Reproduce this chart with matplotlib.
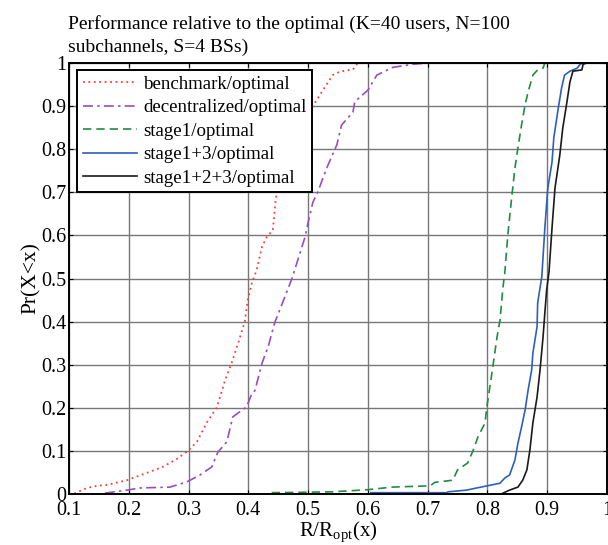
import matplotlib
matplotlib.use("Agg")
import matplotlib.pyplot as plt

plt.rcParams['font.family'] = ['Liberation Serif', 'DejaVu Serif']
plt.rcParams['mathtext.fontset'] = 'custom'
plt.rcParams['mathtext.rm'] = 'Liberation Serif'

# CDF points: (ratio, probability)
bench_x = [0.100, 0.107, 0.130, 0.147, 0.163, 0.197, 0.230, 0.257, 0.280, 0.299, 0.314,
           0.331, 0.347, 0.356, 0.361, 0.372, 0.383, 0.394, 0.399, 0.406, 0.414, 0.423,
           0.431, 0.441, 0.446, 0.455, 0.465, 0.478, 0.490, 0.500, 0.508, 0.523, 0.541,
           0.553, 0.575, 0.583]
bench_p = [0.000, 0.000, 0.014, 0.019, 0.021, 0.032, 0.049, 0.063, 0.081, 0.100, 0.121,
           0.167, 0.200, 0.240, 0.264, 0.304, 0.350, 0.400, 0.450, 0.490, 0.520, 0.574,
           0.597, 0.612, 0.687, 0.730, 0.770, 0.810, 0.850, 0.884, 0.900, 0.933, 0.972,
           0.980, 0.985, 1.000]

decen_x = [0.160, 0.197, 0.219, 0.269, 0.297, 0.319, 0.339, 0.349, 0.364, 0.374, 0.397,
           0.405, 0.411, 0.423, 0.433, 0.444, 0.461, 0.473, 0.495, 0.500, 0.508, 0.516,
           0.531, 0.548, 0.556, 0.575, 0.578, 0.600, 0.615, 0.642, 0.675, 0.700]
decen_p = [0.002, 0.009, 0.014, 0.016, 0.028, 0.044, 0.063, 0.097, 0.121, 0.179, 0.202,
           0.230, 0.240, 0.304, 0.341, 0.397, 0.457, 0.500, 0.597, 0.630, 0.677, 0.700,
           0.756, 0.810, 0.856, 0.886, 0.910, 0.937, 0.972, 0.990, 0.997, 1.000]

s1_x = [0.439, 0.540, 0.600, 0.640, 0.704, 0.712, 0.742, 0.750, 0.767, 0.776, 0.784,
        0.796, 0.799, 0.804, 0.809, 0.816, 0.821, 0.826, 0.829, 0.834, 0.841, 0.846,
        0.851, 0.857, 0.863, 0.868, 0.876, 0.884, 0.893, 0.896]
s1_p = [0.003, 0.005, 0.010, 0.016, 0.019, 0.027, 0.032, 0.056, 0.072, 0.101, 0.132,
        0.165, 0.202, 0.248, 0.295, 0.364, 0.403, 0.480, 0.513, 0.600, 0.694, 0.756,
        0.803, 0.856, 0.903, 0.933, 0.972, 0.984, 0.988, 1.000]

s13_x = [0.605, 0.732, 0.734, 0.765, 0.782, 0.821, 0.829, 0.837, 0.846, 0.851, 0.857,
         0.863, 0.868, 0.874, 0.876, 0.883, 0.884, 0.891, 0.896, 0.901, 0.908, 0.911,
         0.918, 0.924, 0.929, 0.938, 0.950, 0.955, 0.960]
s13_p = [0.003, 0.003, 0.005, 0.009, 0.014, 0.025, 0.037, 0.044, 0.079, 0.118, 0.155,
         0.195, 0.241, 0.288, 0.327, 0.388, 0.443, 0.505, 0.617, 0.710, 0.770, 0.826,
         0.891, 0.942, 0.972, 0.981, 0.988, 0.997, 1.000]

s123_x = [0.824, 0.826, 0.837, 0.851, 0.859, 0.866, 0.871, 0.876, 0.883, 0.888, 0.893,
          0.896, 0.899, 0.903, 0.908, 0.913, 0.921, 0.926, 0.933, 0.938, 0.943, 0.958,
          0.960, 0.966]
s123_p = [0.000, 0.002, 0.009, 0.016, 0.032, 0.056, 0.102, 0.165, 0.225, 0.288, 0.364,
          0.420, 0.473, 0.515, 0.617, 0.710, 0.786, 0.849, 0.910, 0.956, 0.981, 0.984,
          0.997, 1.000]

labels = ['benchmark/optimal', 'decentralized/optimal', 'stage1/optimal',
          'stage1+3/optimal', 'stage1+2+3/optimal']
xticks = [0.1, 0.2, 0.3, 0.4, 0.5, 0.6, 0.7, 0.8, 0.9, 1.0]
yticks = [0, 0.1, 0.2, 0.3, 0.4, 0.5, 0.6, 0.7, 0.8, 0.9, 1.0]

fig = plt.figure(figsize=(6.08, 5.45), dpi=100)
ax = fig.add_axes([69/608, 51/545, 538/608, 431/545])

ax.plot(bench_x, bench_p, color='#ff3b3b', ls=(0, (1, 2)), lw=1.3, label=labels[0])
ax.plot(decen_x, decen_p, color='#9a4cc4', ls=(0, (6, 2.5, 1.5, 2.5)), lw=1.2, label=labels[1])
ax.plot(s1_x, s1_p, color='#1e8c45', ls=(0, (5, 3)), lw=1.2, label=labels[2])
ax.plot(s13_x, s13_p, color='#2c5fbe', ls='-', lw=1.2, label=labels[3])
ax.plot(s123_x, s123_p, color='#1a1a1a', ls='-', lw=1.2, label=labels[4])

ax.set_xlim(0.1, 1.0)
ax.set_ylim(0, 1)
ax.set_xticks(xticks)
ax.set_xticklabels(['0.1', '0.2', '0.3', '0.4', '0.5', '0.6', '0.7', '0.8', '0.9', '1'])
ax.set_yticks(yticks)
ax.set_yticklabels(['0', '0.1', '0.2', '0.3', '0.4', '0.5', '0.6', '0.7', '0.8', '0.9', '1'])
ax.tick_params(direction='in', top=True, right=True, labelsize=14.5, length=3)
ax.tick_params(axis='x', pad=5)
ax.tick_params(axis='y', pad=2)
ax.grid(True, color='#777777', lw=1.0)
for sp in ax.spines.values():
    sp.set_linewidth(1.4)

ax.set_xlabel(r'R/R$_{\mathrm{opt}}$(x)', fontsize=15, labelpad=0)
ax.set_ylabel('Pr(X<x)', fontsize=15.5, labelpad=0)

leg = ax.legend(loc='upper left', bbox_to_anchor=(0.0149, 0.984), borderaxespad=0,
                fancybox=False, edgecolor='black', framealpha=1, fontsize=13.6,
                handlelength=2.85, labelspacing=0.33, borderpad=0.3, handletextpad=0.35)
leg.get_frame().set_linewidth(1.4)

fig.text(68/608, 1 - 15/545, 'Performance relative to the optimal (K=40 users, N=100\nsubchannels, S=4 BSs)',
         ha='left', va='top', fontsize=14.0, linespacing=1.45)

fig.savefig('out.png', dpi=100)
